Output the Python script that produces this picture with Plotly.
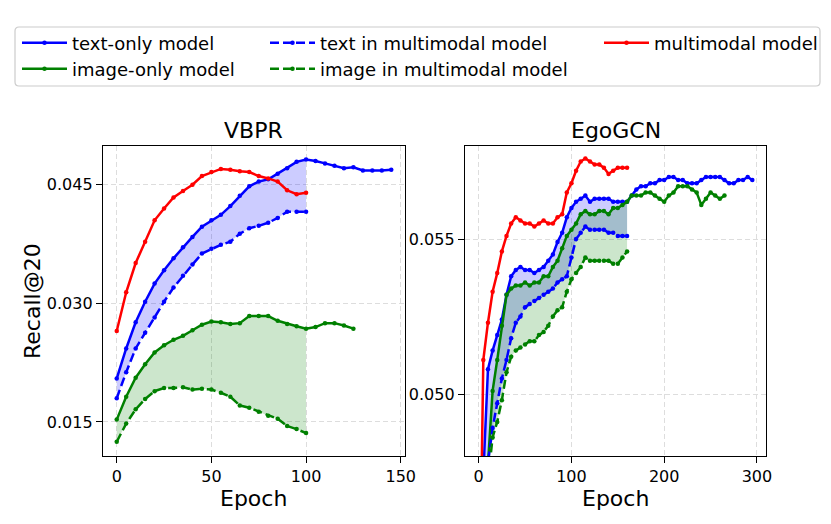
import plotly.graph_objects as go

# ---------------- data ----------------
# VBPR
vbpr_epochs_text_only = list(range(0, 150, 5))
vbpr_text_only = [0.0205, 0.0243, 0.0276, 0.0302, 0.0325, 0.0342, 0.0357, 0.0371, 0.0384, 0.0397,
                  0.0405, 0.0412, 0.0423, 0.0436, 0.0448, 0.0454, 0.0457, 0.0464, 0.0471, 0.0479,
                  0.0482, 0.0480, 0.0477, 0.0474, 0.0471, 0.0472, 0.0468, 0.0468, 0.0468, 0.0469]
vbpr_epochs_image_only = list(range(0, 130, 5))
vbpr_image_only = [0.0153, 0.0182, 0.0206, 0.0223, 0.0238, 0.0247, 0.0254, 0.0259, 0.0266, 0.0273,
                   0.0277, 0.0276, 0.0274, 0.0275, 0.0284, 0.0284, 0.0284, 0.0278, 0.0274, 0.0271,
                   0.0268, 0.0270, 0.0275, 0.0275, 0.0272, 0.0268]
vbpr_epochs_mm = list(range(0, 105, 5))
vbpr_text_in_mm = [0.0180, 0.0213, 0.0243, 0.0263, 0.0282, 0.0302, 0.0320, 0.0335, 0.0349, 0.0363,
                   0.0369, 0.0374, 0.0378, 0.0388, 0.0395, 0.0398, 0.0402, 0.0408, 0.0416, 0.0416,
                   0.0416]
vbpr_image_in_mm = [0.0125, 0.0148, 0.0166, 0.0179, 0.0189, 0.0193, 0.0193, 0.0194, 0.0191, 0.0192,
                    0.0191, 0.0187, 0.0182, 0.0171, 0.0168, 0.0163, 0.0158, 0.0154, 0.0145, 0.0141,
                    0.0136]
vbpr_multimodal = [0.0265, 0.0314, 0.0351, 0.0378, 0.0405, 0.0420, 0.0434, 0.0442, 0.0450, 0.0461,
                   0.0466, 0.0470, 0.0469, 0.0467, 0.0466, 0.0461, 0.0458, 0.0454, 0.0443, 0.0438,
                   0.0440]

# EgoGCN
ego_epochs_text_only = list(range(0, 300, 5))
ego_text_only = [0.0440, 0.0473, 0.0508, 0.0514, 0.0519, 0.0524, 0.0532, 0.0538, 0.0540, 0.0541,
                 0.0540, 0.0540, 0.0539, 0.0540, 0.0541, 0.0543, 0.0545, 0.0549, 0.0552, 0.0557,
                 0.0560, 0.0562, 0.0563, 0.0564, 0.0562, 0.0563, 0.0563, 0.0563, 0.0563, 0.0562,
                 0.0562, 0.0562, 0.0562, 0.0564, 0.0566, 0.0567, 0.0567, 0.0568, 0.0568, 0.0569,
                 0.0569, 0.0570, 0.0570, 0.0569, 0.0569, 0.0568, 0.0568, 0.0568, 0.0569, 0.0570,
                 0.0570, 0.0570, 0.0570, 0.0569, 0.0568, 0.0568, 0.0569, 0.0569, 0.0570, 0.0569]
ego_epochs_image_only = list(range(0, 270, 5))
ego_image_only = [0.0430, 0.0455, 0.0478, 0.0501, 0.0511, 0.0522, 0.0532, 0.0534, 0.0535, 0.0535,
                  0.0536, 0.0535, 0.0536, 0.0536, 0.0538, 0.0538, 0.0541, 0.0543, 0.0547, 0.0551,
                  0.0553, 0.0555, 0.0558, 0.0559, 0.0558, 0.0558, 0.0559, 0.0559, 0.0558, 0.0560,
                  0.0560, 0.0561, 0.0562, 0.0564, 0.0564, 0.0564, 0.0565, 0.0565, 0.0564, 0.0563,
                  0.0562, 0.0564, 0.0565, 0.0567, 0.0567, 0.0567, 0.0566, 0.0565, 0.0561, 0.0563,
                  0.0565, 0.0564, 0.0563, 0.0564]
ego_epochs_mm = list(range(0, 165, 5))
ego_text_in_mm = [0.0420, 0.0455, 0.0478, 0.0489, 0.0497, 0.0505, 0.0511, 0.0518, 0.0523, 0.0525,
                  0.0528, 0.0529, 0.0530, 0.0531, 0.0532, 0.0533, 0.0534, 0.0536, 0.0537, 0.0538,
                  0.0544, 0.0550, 0.0552, 0.0554, 0.0553, 0.0553, 0.0553, 0.0553, 0.0552, 0.0552,
                  0.0551, 0.0551, 0.0551]
ego_image_in_mm = [0.0410, 0.0445, 0.0472, 0.0486, 0.0491, 0.0498, 0.0507, 0.0512, 0.0514, 0.0515,
                   0.0516, 0.0517, 0.0517, 0.0519, 0.0520, 0.0522, 0.0525, 0.0527, 0.0528, 0.0533,
                   0.0537, 0.0539, 0.0541, 0.0544, 0.0543, 0.0543, 0.0543, 0.0543, 0.0543, 0.0542,
                   0.0542, 0.0544, 0.0546]
ego_multimodal = [0.0410, 0.0511, 0.0523, 0.0533, 0.0539, 0.0546, 0.0551, 0.0555, 0.0557, 0.0556,
                  0.0555, 0.0555, 0.0554, 0.0555, 0.0556, 0.0555, 0.0555, 0.0557, 0.0558, 0.0565,
                  0.0568, 0.0572, 0.0575, 0.0576, 0.0575, 0.0574, 0.0574, 0.0573, 0.0571, 0.0572,
                  0.0573, 0.0573, 0.0573]

series_names = ["text-only model", "image-only model", "text in multimodal model",
                "image in multimodal model", "multimodal model"]
panel_titles = ["VBPR", "EgoGCN"]

# ---------------- figure ----------------
W, H = 831, 524
OFF = 8            # default body margin of the page
FW, FH = 860, H - OFF   # paper a bit wider than the window so legends need no margin push
FONT = "DejaVu Sans"
BLUE, GREEN, RED = "#0000ff", "#008000", "#ff0000"


def pxx(p):
    return (p - OFF) / FW


def pxy(p):
    return 1 - (p - OFF) / FH


fig = go.Figure()


def add_fill(x, upper, lower, color, xa, ya):
    n = len(x)
    xs = list(x) + list(x)[::-1]
    ys = list(upper[:n]) + list(lower[:n])[::-1]
    fig.add_trace(go.Scatter(x=xs, y=ys, mode="lines", fill="toself", fillcolor=color,
                             line=dict(width=0), showlegend=False, hoverinfo="skip",
                             xaxis=xa, yaxis=ya))


def add_line(x, y, color, dash, name, xa, ya, legend=None):
    fig.add_trace(go.Scatter(
        x=x, y=y, mode="lines+markers", name=name,
        line=dict(color=color, width=2.5, dash="9px,4px" if dash else "solid"),
        marker=dict(color=color, size=4.5),
        showlegend=legend is not None, legend=legend if legend else "legend",
        xaxis=xa, yaxis=ya))


panels = [
    ("x", "y", vbpr_epochs_text_only, vbpr_text_only, vbpr_epochs_image_only, vbpr_image_only,
     vbpr_epochs_mm, vbpr_text_in_mm, vbpr_image_in_mm, vbpr_multimodal, True),
    ("x2", "y2", ego_epochs_text_only, ego_text_only, ego_epochs_image_only, ego_image_only,
     ego_epochs_mm, ego_text_in_mm, ego_image_in_mm, ego_multimodal, False),
]

for (xa, ya, et, t, ei, im, em, tmm, imm, mm, show) in panels:
    add_fill(em, t, tmm, "rgba(0,0,255,0.2)", xa, ya)
    add_fill(em, im, imm, "rgba(0,128,0,0.2)", xa, ya)
    add_line(et, t, BLUE, False, series_names[0], xa, ya, "legend" if show else None)
    add_line(ei, im, GREEN, False, series_names[1], xa, ya, "legend2" if show else None)
    add_line(em, tmm, BLUE, True, series_names[2], xa, ya, "legend3" if show else None)
    add_line(em, imm, GREEN, True, series_names[3], xa, ya, "legend4" if show else None)
    add_line(em, mm, RED, False, series_names[4], xa, ya, "legend5" if show else None)

axis_common = dict(showline=True, linecolor="black", linewidth=1.3, mirror=True,
                   ticks="outside", ticklen=6, tickwidth=1.3, tickcolor="black",
                   showgrid=True, gridcolor="#dddddd", gridwidth=1, griddash="5px,3px",
                   zeroline=False, automargin=False,
                   tickfont=dict(family=FONT, size=16, color="black"))

yd = [pxy(456), pxy(146)]
fig.update_layout(
    width=FW, height=FH, margin=dict(l=0, r=0, t=0, b=0, autoexpand=False),
    paper_bgcolor="white", plot_bgcolor="white",
    font=dict(family=FONT, color="black"),
    xaxis=dict(domain=[pxx(103), pxx(405)], anchor="y", range=[-7.25, 152.25],
               tickvals=[0, 50, 100, 150], **axis_common),
    yaxis=dict(domain=yd, anchor="x", range=[0.0107, 0.0499],
               tickvals=[0.015, 0.030, 0.045], tickformat=".3f", **axis_common),
    xaxis2=dict(domain=[pxx(465), pxx(766)], anchor="y2", range=[-14.75, 309.75],
                tickvals=[0, 100, 200, 300], **axis_common),
    yaxis2=dict(domain=yd, anchor="x2", range=[0.048, 0.058],
                tickvals=[0.050, 0.055], tickformat=".3f", **axis_common),
)

# legends: 3 columns x 2 rows (each entry placed on its own)
leg_font = dict(family=FONT, size=18, color="black")
leg_pos = {"legend": (17, 43), "legend2": (17, 69), "legend3": (265, 43),
           "legend4": (265, 69), "legend5": (599, 43)}
for key, (lx, ly) in leg_pos.items():
    fig.update_layout({key: dict(x=pxx(lx), y=pxy(ly), xanchor="left", yanchor="middle",
                                 bgcolor="rgba(0,0,0,0)", borderwidth=0, font=leg_font,
                                 itemwidth=45)})

# legend frame (rounded rectangle)
x0, x1, y0, y1 = pxx(15), pxx(820), pxy(86), pxy(27)
rx, ry = 4 / FW, 4 / FH
path = (f"M{x0+rx},{y0} L{x1-rx},{y0} Q{x1},{y0} {x1},{y0+ry} L{x1},{y1-ry} "
        f"Q{x1},{y1} {x1-rx},{y1} L{x0+rx},{y1} Q{x0},{y1} {x0},{y1-ry} "
        f"L{x0},{y0+ry} Q{x0},{y0} {x0+rx},{y0} Z")
fig.add_shape(type="path", path=path, xref="paper", yref="paper",
              line=dict(color="#cccccc", width=1.2))

# titles and axis labels
ann = []
for cx, title in zip([254, 615.5], panel_titles):
    ann.append(dict(x=pxx(cx), y=pxy(131), text=title, showarrow=False, xref="paper",
                    yref="paper", xanchor="center", yanchor="middle",
                    font=dict(family=FONT, size=22, color="black")))
    ann.append(dict(x=pxx(cx), y=pxy(498), text="Epoch", showarrow=False, xref="paper",
                    yref="paper", xanchor="center", yanchor="middle",
                    font=dict(family=FONT, size=22, color="black")))
ann.append(dict(x=pxx(32), y=pxy(301), text="Recall@20", showarrow=False, xref="paper",
                yref="paper", xanchor="center", yanchor="middle", textangle=-90,
                font=dict(family=FONT, size=22, color="black")))
fig.update_layout(annotations=ann)

fig.write_html("out.html")
